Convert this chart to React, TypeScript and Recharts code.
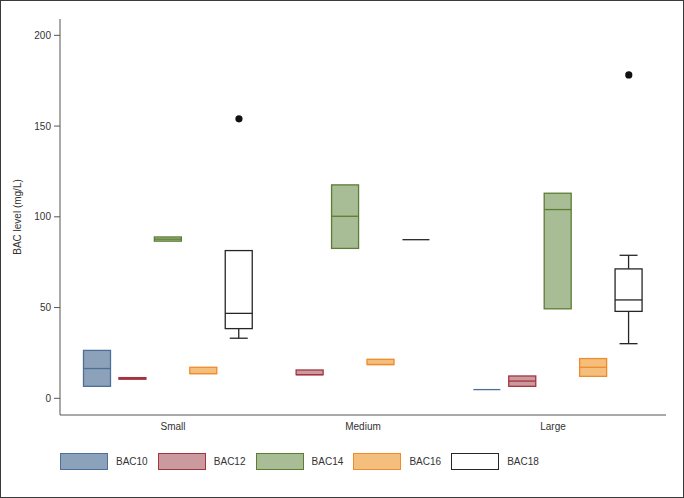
import { ComposedChart, Bar, Scatter, XAxis, YAxis } from 'recharts';

// ─── Data ────────────────────────────────────────────────────────────────────

const categories = ['Small', 'Medium', 'Large'];
const seriesNames = ['BAC10', 'BAC12', 'BAC14', 'BAC16', 'BAC18'];

// [low whisker, q1, median, q3, high whisker] for Small / Medium / Large (null = no samples)
type Stats = [number, number, number, number, number] | null;
const bac10: Stats[] = [[6.6, 6.6, 16.4, 26.4, 26.4], null, [4.8, 4.8, 4.8, 4.8, 4.8]];
const bac12: Stats[] = [[10.5, 10.5, 11.0, 11.4, 11.4], [13.0, 13.0, 13.0, 15.6, 15.6], [6.6, 6.6, 9.5, 12.3, 12.3]];
const bac14: Stats[] = [[86.6, 86.6, 87.7, 88.9, 88.9], [82.6, 82.6, 100.3, 117.6, 117.6], [49.3, 49.3, 104.0, 113.0, 113.0]];
const bac16: Stats[] = [[13.6, 13.6, 13.6, 17.1, 17.1], [18.6, 18.6, 18.6, 21.5, 21.5], [12.1, 12.1, 17.1, 21.9, 21.9]];
const bac18: Stats[] = [[33.1, 38.4, 46.8, 81.4, 81.4], [87.4, 87.4, 87.4, 87.4, 87.4], [30.1, 47.9, 54.2, 71.3, 78.8]];
const bac18Outliers: (number | null)[] = [154.0, null, 178.2];

const yTicks = [0, 50, 100, 150, 200];

// ─── Styling ─────────────────────────────────────────────────────────────────

const C: Record<string, { fill: string; stroke: string }> = {
  BAC10: { fill: '#8ba2ba', stroke: '#4d6f98' },
  BAC12: { fill: '#cb9a9e', stroke: '#a3353f' },
  BAC14: { fill: '#a8bd95', stroke: '#5b7d34' },
  BAC16: { fill: '#f4bf7c', stroke: '#ef8b2c' },
  BAC18: { fill: '#ffffff', stroke: '#262626' },
};
const AXIS = '#555';
const TEXT = '#333';
const FONT = '"Liberation Sans", Arial, sans-serif';

// ─── Rows: one per box, laid out on sequential slots with a gap between sizes ─

const statsBySeries = [bac10, bac12, bac14, bac16, bac18];

type Row = {
  cat: string; series: string; slot: number;
  lo: number; q1: number; med: number; q3: number; hi: number;
  range: [number, number]; out: number | null;
};

const rows: Row[] = [];
let slot = 0;
categories.forEach((cat, ci) => {
  seriesNames.forEach((name, si) => {
    const s = statsBySeries[si][ci];
    if (!s) return;
    rows.push({
      cat, series: name, slot,
      lo: s[0], q1: s[1], med: s[2], q3: s[3], hi: s[4],
      range: [s[0], s[4]],
      out: name === 'BAC18' ? bac18Outliers[ci] : null,
    });
    slot++;
  });
  slot++;
});
const outlierRows = rows.filter(r => r.out != null);

// ─── Box shape: bar spans low..high whisker, the rest is interpolated inside ─

function BoxShape(props: any) {
  const { x, y, width, height, payload } = props;
  const { lo, q1, med, q3, hi, series } = payload as Row;
  const col = C[series];
  const unit = hi > lo ? height / (hi - lo) : 0;
  const py = (v: number) => y + (hi - v) * unit;
  const cx = x + width / 2;
  const cap = 9;
  const sw = 1.3;
  return (
    <g>
      {hi > q3 && (
        <g stroke={col.stroke} strokeWidth={sw}>
          <line x1={cx} x2={cx} y1={py(hi)} y2={py(q3)} />
          <line x1={cx - cap} x2={cx + cap} y1={py(hi)} y2={py(hi)} />
        </g>
      )}
      {q1 > lo && (
        <g stroke={col.stroke} strokeWidth={sw}>
          <line x1={cx} x2={cx} y1={py(q1)} y2={py(lo)} />
          <line x1={cx - cap} x2={cx + cap} y1={py(lo)} y2={py(lo)} />
        </g>
      )}
      <rect x={x} y={py(q3)} width={width} height={Math.max(0, py(q1) - py(q3))}
        fill={col.fill} stroke={col.stroke} strokeWidth={sw} />
      <line x1={x} x2={x + width} y1={py(med)} y2={py(med)} stroke={col.stroke} strokeWidth={sw} />
    </g>
  );
}

function Dot(props: any) {
  const { cx, cy } = props;
  return <circle cx={cx} cy={cy} r={3.6} fill="#111" />;
}

// ─── Legend ──────────────────────────────────────────────────────────────────

function BoxLegend() {
  return (
    <div style={{ position: 'absolute', left: 0, top: 453, width: 684, height: 17 }}>
      {seriesNames.map((name, i) => (
        <div key={name} style={{ position: 'absolute', left: 60 + i * 97.8, top: 0, display: 'flex', alignItems: 'center' }}>
          <div style={{
            width: 48, height: 17, boxSizing: 'border-box',
            background: C[name].fill, border: `1.3px solid ${C[name].stroke}`,
          }} />
          <span style={{
            marginLeft: 8, fontSize: 10, color: TEXT,
            fontFamily: '"Liberation Sans Narrow", "Arial Narrow", ' + FONT,
          }}>{name}</span>
        </div>
      ))}
    </div>
  );
}

// ─── Main component ──────────────────────────────────────────────────────────

export default function App() {
  return (
    <div style={{ position: 'absolute', left: 0, top: 0, width: 684, height: 498, background: '#fff' }}>
      <ComposedChart width={684} height={498} data={rows} margin={{ top: 19, right: 18, bottom: 53, left: 10 }}>
        <XAxis
          xAxisId="cat" dataKey="cat" allowDuplicatedCategory={false}
          padding={{ left: 18, right: 18 }} height={30}
          stroke={AXIS} tickLine={false}
          tick={{ fontSize: 10, fill: TEXT, fontFamily: FONT }}
        />
        <XAxis
          xAxisId="slot" dataKey="slot" type="number" hide
          domain={[-1.05, 16.05]} allowDataOverflow
        />
        <YAxis
          width={50} domain={[-9.2, 209]} ticks={yTicks} allowDataOverflow
          stroke={AXIS} tickSize={6} tickMargin={3}
          tick={{ fontSize: 10, fill: TEXT, fontFamily: FONT }}
          label={{ value: 'BAC level (mg/L)', angle: -90, position: 'center', dx: -18, fontSize: 10, fill: TEXT, fontFamily: FONT }}
        />
        <Bar xAxisId="slot" dataKey="range" barSize={27} shape={<BoxShape />} isAnimationActive={false} />
        <Scatter xAxisId="slot" data={outlierRows} dataKey="out" shape={<Dot />} isAnimationActive={false} />
      </ComposedChart>
      <BoxLegend />
      <div style={{ position: 'absolute', inset: 0, border: '1px solid #3a3a3a', pointerEvents: 'none' }} />
    </div>
  );
}
